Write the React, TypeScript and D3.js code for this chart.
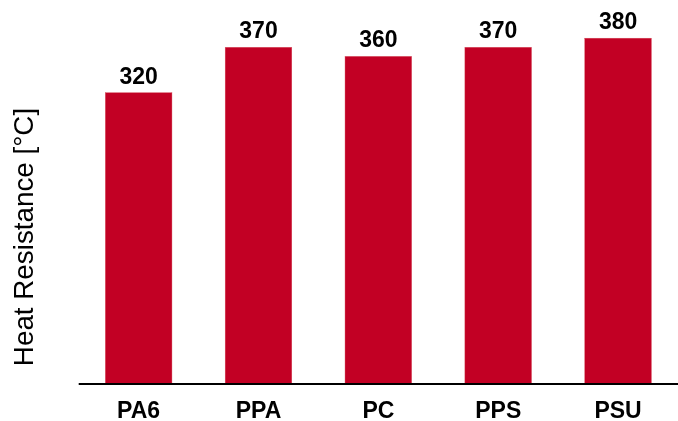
import React, { useRef, useEffect } from "react";
import * as d3 from "d3";

const categories = ["PA6", "PPA", "PC", "PPS", "PSU"];
const heatValues = [320, 370, 360, 370, 380];
const yTitle = "Heat Resistance [°C]";

const width = 678;
const height = 421;

function HeatChart() {
  const svgRef = useRef<SVGSVGElement>(null);

  useEffect(() => {
    const svg = d3.select(svgRef.current);
    svg.selectAll("*").remove();

    const x = d3.scaleBand<string>()
      .domain(categories)
      .range([78.7, 678])
      .paddingInner(0.444)
      .paddingOuter(0.222);

    const y = d3.scaleLinear()
      .domain([0, 400])
      .range([383.5, 20]);

    const data = categories.map((c, i) => ({ cat: c, value: heatValues[i] }));

    // bars
    svg.append("g")
      .selectAll("rect")
      .data(data)
      .enter()
      .append("rect")
      .attr("x", d => x(d.cat)!)
      .attr("y", d => y(d.value))
      .attr("width", x.bandwidth())
      .attr("height", d => y(0) - y(d.value))
      .style("fill", "#C20024")
      .style("stroke", "#d8505f")
      .style("stroke-width", 0.4);

    // value labels
    svg.append("g")
      .selectAll("text")
      .data(data)
      .enter()
      .append("text")
      .attr("x", d => x(d.cat)! + x.bandwidth() / 2)
      .attr("y", d => y(d.value) - 9)
      .attr("text-anchor", "middle")
      .attr("font-family", "Liberation Sans, Arial, sans-serif")
      .attr("font-weight", "bold")
      .attr("font-size", 23)
      .attr("fill", "#000")
      .text(d => d.value);

    // x axis
    const xAxis = svg.append("g")
      .attr("transform", `translate(0,${y(0) + 0.5})`)
      .call(d3.axisBottom(x).tickSize(0).tickPadding(0));
    xAxis.select(".domain")
      .attr("d", `M${x.range()[0]},0H${x.range()[1]}`)
      .attr("stroke", "#000")
      .attr("stroke-width", 2);
    xAxis.selectAll(".tick text")
      .attr("y", 34)
      .attr("dy", null)
      .attr("font-family", "Liberation Sans, Arial, sans-serif")
      .attr("font-weight", "bold")
      .attr("font-size", 23)
      .attr("fill", "#000");

    // y title
    svg.append("text")
      .attr("transform", `translate(33,237) rotate(-90)`)
      .attr("text-anchor", "middle")
      .attr("font-family", "Liberation Sans, Arial, sans-serif")
      .attr("font-size", 27.8)
      .attr("fill", "#000")
      .text(yTitle);
  }, []);

  return <svg ref={svgRef} width={width} height={height} style={{ display: "block" }}></svg>;
}

export default function App() {
  return (
    <div style={{ position: "fixed", left: 0, top: 0, width, height, overflow: "hidden" }}>
      <HeatChart />
    </div>
  );
}
